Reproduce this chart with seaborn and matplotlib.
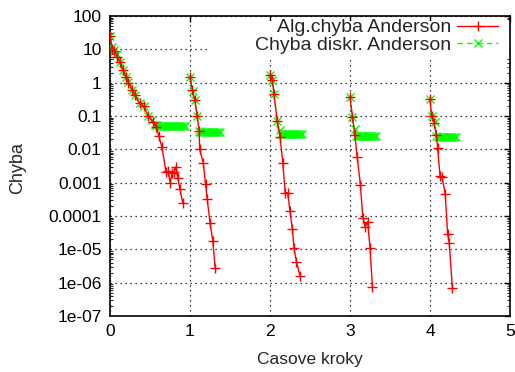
import numpy as np
import pandas as pd
import matplotlib
matplotlib.use("Agg")
import matplotlib.pyplot as plt
from matplotlib.lines import Line2D
from matplotlib.patches import Rectangle
from matplotlib.ticker import FixedLocator, FixedFormatter, LogLocator, NullFormatter
import seaborn as sns

# ---- data: Alg.chyba Anderson (red), one list per time step ----
alg_t1 = [0.0, 0.03, 0.05, 0.09, 0.13, 0.16, 0.2, 0.23, 0.28, 0.31, 0.37, 0.42, 0.48,
          0.54, 0.58, 0.61, 0.65, 0.70, 0.73, 0.75, 0.78, 0.80, 0.825, 0.846, 0.875, 0.91]
alg_v1 = [25, 10, 9, 6, 4.2, 2.4, 1.5, 1.0, 0.6, 0.43, 0.24, 0.2, 0.1,
          0.064, 0.048, 0.025, 0.0115, 0.0021, 0.0022, 0.001, 0.002, 0.0021, 0.003, 0.0014, 0.00063, 0.00024]
alg_t2 = [1.0, 1.03, 1.06, 1.09, 1.115, 1.12, 1.165, 1.195, 1.215, 1.25, 1.285, 1.315]
alg_v2 = [1.45, 0.6, 0.3, 0.1, 0.035, 0.01, 0.004, 0.0009, 0.00032, 6.3e-5, 1.8e-5, 2.7e-6]
alg_t3 = [2.0, 2.03, 2.05, 2.09, 2.125, 2.16, 2.19, 2.22, 2.25, 2.28, 2.30, 2.33, 2.375]
alg_v3 = [1.7, 1.2, 0.45, 0.07, 0.024, 0.004, 0.00048, 0.0005, 0.00014, 4e-5, 1.07e-5, 4.3e-6, 1.6e-6]
alg_t4 = [3.0, 3.03, 3.06, 3.09, 3.13, 3.16, 3.19, 3.22, 3.25, 3.28]
alg_v4 = [0.38, 0.095, 0.027, 0.006, 0.00085, 8.9e-5, 4.8e-5, 6.8e-5, 1.1e-5, 7.6e-7]
alg_t5 = [4.0, 4.02, 4.05, 4.08, 4.095, 4.125, 4.15, 4.19, 4.22, 4.24, 4.28]
alg_v5 = [0.32, 0.097, 0.063, 0.027, 0.011, 0.0016, 0.0015, 0.00046, 2.9e-5, 1.6e-5, 6.8e-7]

# ---- data: Chyba diskr. Anderson (green) ----
dis_t1 = [0.0, 0.03, 0.05, 0.09, 0.13, 0.16, 0.2, 0.23, 0.28, 0.31, 0.37, 0.42, 0.48, 0.52, 0.56,
          0.58, 0.60, 0.62, 0.64, 0.66, 0.68, 0.70, 0.72, 0.74, 0.76, 0.78, 0.80, 0.82, 0.84,
          0.86, 0.88, 0.90, 0.92, 0.94]
dis_v1 = [25, 12, 9.5, 7, 4.3, 2.4, 1.5, 1.05, 0.6, 0.43, 0.24, 0.2, 0.1, 0.075, 0.055,
          0.053, 0.052, 0.051, 0.05, 0.05, 0.05, 0.05, 0.05, 0.05, 0.05, 0.05, 0.05, 0.05, 0.05,
          0.05, 0.05, 0.05, 0.05, 0.05]
dis_t2 = [1.0, 1.04, 1.06, 1.09, 1.11, 1.13, 1.15, 1.17, 1.19, 1.21, 1.23, 1.25, 1.27, 1.29,
          1.31, 1.33, 1.35, 1.37]
dis_v2 = [1.45, 0.56, 0.3, 0.1, 0.036, 0.034, 0.034, 0.034, 0.034, 0.034, 0.034, 0.034, 0.034,
          0.034, 0.034, 0.034, 0.034, 0.034]
dis_t3 = [2.0, 2.03, 2.05, 2.09, 2.12, 2.14, 2.16, 2.18, 2.20, 2.22, 2.24, 2.26, 2.28, 2.30,
          2.32, 2.34, 2.36, 2.38, 2.40]
dis_v3 = [1.7, 1.2, 0.45, 0.07, 0.038, 0.029, 0.028, 0.028, 0.028, 0.028, 0.028, 0.028, 0.028,
          0.028, 0.028, 0.028, 0.028, 0.028, 0.028]
dis_t4 = [3.0, 3.03, 3.06, 3.08, 3.10, 3.12, 3.14, 3.16, 3.18, 3.20, 3.22, 3.24, 3.26, 3.28,
          3.30, 3.32]
dis_v4 = [0.38, 0.095, 0.04, 0.026, 0.025, 0.025, 0.025, 0.025, 0.025, 0.025, 0.025, 0.025,
          0.025, 0.025, 0.025, 0.025]
dis_t5 = [4.0, 4.02, 4.06, 4.08, 4.10, 4.12, 4.14, 4.16, 4.18, 4.20, 4.22, 4.24, 4.26, 4.28,
          4.30, 4.32]
dis_v5 = [0.32, 0.1, 0.068, 0.025, 0.024, 0.024, 0.024, 0.024, 0.024, 0.024, 0.024, 0.024,
          0.024, 0.024, 0.024, 0.024]

ytick_vals = [100, 10, 1, 0.1, 0.01, 0.001, 0.0001, 1e-5, 1e-6, 1e-7]
ytick_labels = ["100", "10", "1", "0.1", "0.01", "0.001", "0.0001", "1e-05", "1e-06", "1e-07"]
xtick_vals = [0, 1, 2, 3, 4, 5]
xtick_labels = ["0", "1", "2", "3", "4", "5"]
series_names = ["Alg.chyba Anderson", "Chyba diskr. Anderson"]

sns.set_style("white")
plt.rcParams["font.family"] = ["Liberation Sans", "DejaVu Sans"]
plt.rcParams["font.size"] = 12.5

RED = "#ff0000"
GREEN = "#00ff00"

fig = plt.figure(figsize=(5.15, 3.72), dpi=100)
ax = fig.add_axes([110 / 515, 1 - 316 / 372, 400 / 515, 300 / 372])

rows = []
for k, (t, v) in enumerate([(alg_t1, alg_v1), (alg_t2, alg_v2), (alg_t3, alg_v3),
                            (alg_t4, alg_v4), (alg_t5, alg_v5)]):
    for a, b in zip(t, v):
        rows.append((series_names[0], k, a, b))
for k, (t, v) in enumerate([(dis_t1, dis_v1), (dis_t2, dis_v2), (dis_t3, dis_v3),
                            (dis_t4, dis_v4), (dis_t5, dis_v5)]):
    for a, b in zip(t, v):
        rows.append((series_names[1], k, a, b))
df = pd.DataFrame(rows, columns=["series", "seg", "t", "err"])

# green first (drawn under red)
for name, col, mk, ms, ls, z in [(series_names[1], GREEN, "x", 6, (0, (4, 3)), 3),
                                 (series_names[0], RED, "+", 7, "-", 4)]:
    sub = df[df.series == name]
    for seg, g in sub.groupby("seg"):
        sns.lineplot(data=g, x="t", y="err", ax=ax, color=col, marker=mk, markersize=ms,
                     markeredgewidth=1.0, markeredgecolor=col, markerfacecolor=col,
                     linewidth=1.0, linestyle=ls, sort=False,
                     estimator=None, legend=False, zorder=z)

ax.set_yscale("log")
ax.set_xlim(0, 5)
ax.set_ylim(1e-7, 100)
ax.yaxis.set_major_locator(FixedLocator(ytick_vals))
ax.yaxis.set_major_formatter(FixedFormatter(ytick_labels))
ax.yaxis.set_minor_locator(LogLocator(base=10, subs=np.arange(2, 10), numticks=20))
ax.yaxis.set_minor_formatter(NullFormatter())
ax.xaxis.set_major_locator(FixedLocator(xtick_vals))
ax.xaxis.set_major_formatter(FixedFormatter(xtick_labels))

ax.tick_params(axis="both", which="major", direction="in", length=4.5, width=1.0,
               top=True, right=True, labelsize=12.5, colors="black", pad=6)
ax.tick_params(axis="y", which="minor", direction="in", length=2.2, width=0.8,
               left=True, right=True)
ax.grid(True, which="major", color="black", linestyle=(0, (1, 3)), linewidth=0.9)
ax.set_axisbelow(True)
for s in ax.spines.values():
    s.set_color("black")
    s.set_linewidth(1.2)
    s.set_visible(True)

ax.set_xlabel("Casove kroky", fontsize=12.5)
ax.set_ylabel("Chyba", fontsize=13, va="center")
ax.yaxis.set_label_coords(-0.23, 0.493)
ax.xaxis.set_label_coords(0.5, -0.12)

# opaque key background (gnuplot style)
ax.add_patch(Rectangle((0.247, 0.86), 0.753, 0.125, transform=ax.transAxes,
                       facecolor="white", edgecolor="none", zorder=1))

handles = [Line2D([], [], color=RED, marker="+", markersize=7, linewidth=1.0),
           Line2D([], [], color=GREEN, marker="x", markersize=6, linewidth=1.0,
                  linestyle=(0, (4, 3)))]
ax.legend(handles, series_names, loc="upper right", markerfirst=False, frameon=False,
          fontsize=14, handlelength=2.1, handletextpad=0.3, labelspacing=0.0,
          borderaxespad=0.0, borderpad=0.3, bbox_to_anchor=(0.985, 1.01))

fig.savefig("out.png", dpi=100)
